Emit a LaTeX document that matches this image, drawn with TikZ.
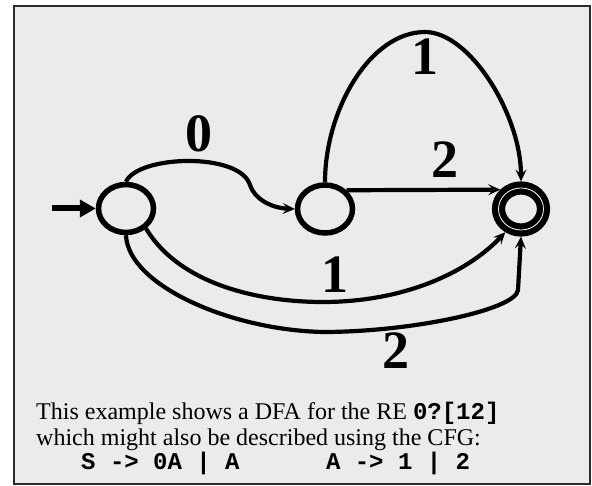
\documentclass[tikz,border=0pt]{standalone}
\usepackage{fontspec}
\setmainfont{Liberation Serif}
\setmonofont{Liberation Mono}
\usetikzlibrary{shapes.geometric,arrows.meta}
\definecolor{panel}{HTML}{EBEBEB}
\definecolor{frameline}{HTML}{2A2A2A}
\tikzset{
  state/.style={ellipse, draw=black, line width=5.5pt, fill=panel,
    minimum width=55pt, minimum height=48pt, inner sep=0pt},
  accept/.style={ellipse, draw=black, line width=6.2pt, double=white,
    double distance=0.8pt, fill=panel, minimum width=45pt,
    minimum height=42pt, inner sep=0pt, outer sep=6.6pt},
  trans/.style={line width=4.2pt, -{Stealth[length=12pt,width=11pt,inset=5pt]}},
  entry/.style={line width=6pt, -{Triangle[length=16pt,width=17pt]}},
  lbl/.style={font=\bfseries\fontsize{54}{54}\selectfont, inner sep=0pt},
  caption/.style={font=\fontsize{24}{28}\selectfont, inner sep=0pt, anchor=base west},
  grammar/.style={font=\ttfamily\bfseries\fontsize{24}{28}\selectfont, inner sep=0pt, anchor=base west},
}
\begin{document}
\begin{tikzpicture}[x=1pt, y=-1pt]
  % page and panel
  \useasboundingbox[fill=white] (0,0) rectangle (592,486);
  \draw[frameline, line width=2pt, fill=panel] (14,6) rectangle (590,484);

  % states
  \node[state]  (n1) at (126,208.5) {};
  \node[state]  (n2) at (325,209) {};
  \node[accept] (n3) at (521,209) {};

  % entry arrow
  \coordinate (start) at (52,208.5);
  \draw[entry] (start) -- (n1.west);

  % transitions
  \draw[trans] (n1.north) .. controls (138,155) and (240,152) .. (250,185)
                .. controls (254,198) and (270,208) .. (n2.west);
  \draw[trans] (n2.41) -- (n3.137);
  \draw[trans] (n2.north) .. controls (325,110) and (370,32) .. (425,32)
                .. controls (470,32) and (521,115) .. (n3.north);
  \draw[trans] (n1.-45) .. controls (180,285) and (260,302) .. (323,302)
                .. controls (400,302) and (465,275) .. (n3.236);
  \draw[trans] (n1.south) .. controls (128,285) and (230,330) .. (323,332)
                .. controls (410,332) and (516,310) .. (518,290) -- (n3.south);

  % transition labels
  \node[lbl] (l0)  at (199,133.5) {0};
  \node[lbl] (l1a) at (425,56.5)  {1};
  \node[lbl] (l2a) at (445,159.5) {2};
  \node[lbl] (l1b) at (334.5,274.5) {1};
  \node[lbl] (l2b) at (396,350.5) {2};

  % caption
  \node[caption] (c1) at (36,420) {This example shows a DFA for the RE \texttt{\bfseries 0?[12]}};
  \node[caption] (c2) at (36,445) {which might also be described using the CFG:};
  \node[grammar] (g1) at (81,469) {S -> 0A | A};
  \node[grammar] (g2) at (325.8,469) {A -> 1 | 2};
\end{tikzpicture}
\end{document}
